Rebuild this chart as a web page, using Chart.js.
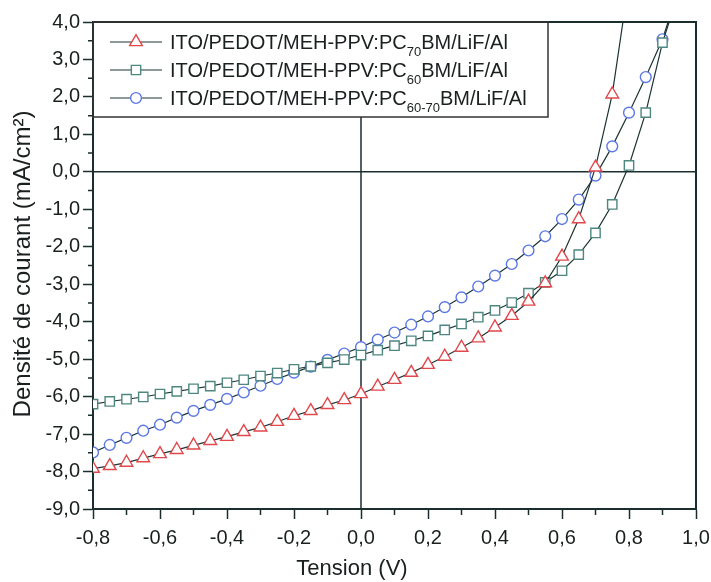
<!DOCTYPE html>
<html>
<head>
<meta charset="utf-8">
<script src="https://cdn.jsdelivr.net/npm/chart.js@4.4.0/dist/chart.umd.min.js"></script>
<style>
  html, body { margin: 0; padding: 0; background: #fff; }
</style>
</head>
<body>
<canvas id="result" width="711" height="582"></canvas>
<script>
"use strict";
// J-V curves, values
const tension = [-0.8, -0.75, -0.7, -0.65, -0.6, -0.55, -0.5, -0.45, -0.4, -0.35, -0.3, -0.25,
  -0.2, -0.15, -0.1, -0.05, 0, 0.05, 0.1, 0.15, 0.2, 0.25, 0.3, 0.35,
  0.4, 0.45, 0.5, 0.55, 0.6, 0.65, 0.7, 0.75, 0.8, 0.85, 0.9, 0.95];

const pc70 = [-7.92, -7.85, -7.76, -7.64, -7.53, -7.42, -7.30, -7.18, -7.07, -6.94, -6.82, -6.67,
  -6.51, -6.38, -6.22, -6.09, -5.93, -5.73, -5.55, -5.36, -5.15, -4.93, -4.69, -4.44,
  -4.15, -3.84, -3.46, -2.97, -2.26, -1.26, 0.12, 2.07, 5.1];

const pc60 = [-6.20, -6.13, -6.07, -6.01, -5.93, -5.86, -5.79, -5.72, -5.63, -5.55, -5.45, -5.37,
  -5.27, -5.19, -5.10, -5.01, -4.89, -4.76, -4.64, -4.51, -4.38, -4.22, -4.06, -3.88,
  -3.70, -3.49, -3.24, -2.95, -2.64, -2.21, -1.63, -0.87, 0.17, 1.58, 3.45, 4.83];

const pc6070 = [-7.49, -7.29, -7.10, -6.91, -6.75, -6.56, -6.38, -6.22, -6.06, -5.89, -5.71, -5.53,
  -5.36, -5.20, -5.02, -4.85, -4.68, -4.48, -4.29, -4.08, -3.86, -3.61, -3.35, -3.06,
  -2.77, -2.46, -2.10, -1.72, -1.26, -0.74, -0.10, 0.68, 1.58, 2.53, 3.54, 4.92];

const xTicks = [-0.8, -0.6, -0.4, -0.2, 0, 0.2, 0.4, 0.6, 0.8, 1.0];
const yTicks = [-9, -8, -7, -6, -5, -4, -3, -2, -1, 0, 1, 2, 3, 4];

// label pieces: text, subscript, text
const legendLabels = [
  ["ITO/PEDOT/MEH-PPV:PC", "70", "BM/LiF/Al"],
  ["ITO/PEDOT/MEH-PPV:PC", "60", "BM/LiF/Al"],
  ["ITO/PEDOT/MEH-PPV:PC", "60-70", "BM/LiF/Al"],
];
const xTitle = "Tension (V)";
const yTitle = "Densité de courant (mA/cm²)";

const FONT = "'Liberation Sans', Arial, sans-serif";
const AXIS = "#1a2e2e";
const LINE = "#1c3434";
const TEXT = "#1a1f1f";

function toPoints(ys) {
  return ys.map((v, i) => ({ x: tension[i], y: v }));
}

function fmt(v) {
  return Number(v).toFixed(1).replace(".", ",");
}

const series = [
  { data: pc70, style: "triangle", color: "#e2474b", radius: 7.3 },
  { data: pc60, style: "rect", color: "#4e8780", radius: 6.6 },
  { data: pc6070, style: "circle", color: "#5b78e6", radius: 5.4 },
];

// marker like Chart.js draws them, for the legend
function drawMarker(ctx, style, x, y, r) {
  ctx.beginPath();
  if (style === "triangle") {
    ctx.moveTo(x, y - r);
    ctx.lineTo(x + Math.sin(2 * Math.PI / 3) * r, y + r / 2);
    ctx.lineTo(x - Math.sin(2 * Math.PI / 3) * r, y + r / 2);
    ctx.closePath();
  } else if (style === "rect") {
    const s = Math.SQRT1_2 * r;
    ctx.rect(x - s, y - s, 2 * s, 2 * s);
  } else {
    ctx.arc(x, y, r, 0, Math.PI * 2);
  }
  ctx.fill();
  ctx.stroke();
}

const decor = {
  id: "decor",
  beforeDatasetsDraw(chart) {
    const { ctx, chartArea: a, scales } = chart;
    const x0 = scales.x.getPixelForValue(0);
    const y0 = scales.y.getPixelForValue(0);
    ctx.save();
    ctx.strokeStyle = AXIS;
    ctx.lineWidth = 1.5;
    ctx.beginPath();
    ctx.moveTo(x0, a.top);
    ctx.lineTo(x0, a.bottom);
    ctx.moveTo(a.left, y0);
    ctx.lineTo(a.right, y0);
    ctx.stroke();
    ctx.restore();
  },
  afterDraw(chart) {
    const { ctx, chartArea: a, scales } = chart;
    ctx.save();
    // top + right frame
    ctx.strokeStyle = AXIS;
    ctx.lineWidth = 2;
    ctx.beginPath();
    ctx.moveTo(a.left, a.top);
    ctx.lineTo(a.right, a.top);
    ctx.lineTo(a.right, a.bottom);
    ctx.stroke();

    // minor ticks
    ctx.lineWidth = 1.5;
    ctx.beginPath();
    for (let i = 0; i < yTicks.length - 1; i++) {
      const py = scales.y.getPixelForValue((yTicks[i] + yTicks[i + 1]) / 2);
      ctx.moveTo(a.left - 5, py);
      ctx.lineTo(a.left, py);
    }
    for (let i = 0; i < xTicks.length - 1; i++) {
      const px = scales.x.getPixelForValue((xTicks[i] + xTicks[i + 1]) / 2);
      ctx.moveTo(px, a.bottom);
      ctx.lineTo(px, a.bottom + 6);
    }
    ctx.stroke();

    // legend box
    const lx = a.left, ly = a.top, lw = 455, lh = 95;
    ctx.fillStyle = "#fff";
    ctx.fillRect(lx + 1, ly + 1, lw - 1, lh - 1);
    ctx.strokeStyle = "#333";
    ctx.lineWidth = 1.5;
    ctx.strokeRect(lx, ly, lw, lh);

    legendLabels.forEach((parts, i) => {
      const s = series[i];
      const cy = ly + 20 + i * 28;
      ctx.strokeStyle = LINE;
      ctx.lineWidth = 1.2;
      ctx.beginPath();
      ctx.moveTo(lx + 17, cy);
      ctx.lineTo(lx + 69, cy);
      ctx.stroke();
      ctx.fillStyle = "#fff";
      ctx.strokeStyle = s.color;
      ctx.lineWidth = 1.4;
      drawMarker(ctx, s.style, lx + 43, cy, s.radius);

      ctx.fillStyle = TEXT;
      ctx.textAlign = "left";
      ctx.textBaseline = "alphabetic";
      let tx = lx + 77;
      const base = cy + 7;
      ctx.font = "20px " + FONT;
      ctx.fillText(parts[0], tx, base);
      tx += ctx.measureText(parts[0]).width;
      ctx.font = "13px " + FONT;
      ctx.fillText(parts[1], tx, base + 7);
      tx += ctx.measureText(parts[1]).width;
      ctx.font = "20px " + FONT;
      ctx.fillText(parts[2], tx, base);
    });

    // axis titles
    ctx.fillStyle = TEXT;
    ctx.textAlign = "center";
    ctx.textBaseline = "middle";
    ctx.font = "22px " + FONT;
    ctx.fillText(xTitle, 352, 569);
    ctx.font = "24px " + FONT;
    ctx.translate(23, 264);
    ctx.rotate(-Math.PI / 2);
    ctx.fillText(yTitle, 0, 0);
    ctx.restore();
  },
};

new Chart("result", {
  type: "line",
  data: {
    datasets: series.map((s, i) => ({
      label: legendLabels[i].join(""),
      data: toPoints(s.data),
      borderColor: LINE,
      borderWidth: 1.2,
      pointStyle: s.style,
      pointRadius: s.radius,
      pointBorderWidth: 1.4,
      pointBorderColor: s.color,
      pointBackgroundColor: "#fff",
      fill: false,
      tension: 0,
    })),
  },
  options: {
    responsive: false,
    animation: false,
    devicePixelRatio: 1,
    layout: { padding: { top: 22, right: 15, left: 0, bottom: 0 } },
    plugins: {
      legend: { display: false },
      tooltip: { enabled: false },
    },
    scales: {
      x: {
        type: "linear",
        min: -0.8,
        max: 1.0,
        afterBuildTicks: (s) => { s.ticks = xTicks.map((v) => ({ value: v })); },
        afterFit: (s) => {
          s.height = 73;
          s.paddingLeft = 0;
          s.paddingRight = 0;
        },
        ticks: {
          callback: fmt,
          font: { family: FONT, size: 20 },
          color: TEXT,
          padding: 7,
          maxRotation: 0,
          autoSkip: false,
        },
        grid: { drawOnChartArea: false, tickLength: 10, tickWidth: 1.5, tickColor: AXIS },
        border: { color: AXIS, width: 2 },
      },
      y: {
        min: -9,
        max: 4,
        afterBuildTicks: (s) => { s.ticks = yTicks.map((v) => ({ value: v })); },
        afterFit: (s) => {
          s.width = 93;
          s.paddingTop = 0;
          s.paddingBottom = 0;
        },
        ticks: {
          callback: fmt,
          font: { family: FONT, size: 20 },
          color: TEXT,
          padding: 3,
          autoSkip: false,
        },
        grid: { drawOnChartArea: false, tickLength: 10, tickWidth: 1.5, tickColor: AXIS },
        border: { color: AXIS, width: 2 },
      },
    },
  },
  plugins: [decor],
});
</script>
</body>
</html>
